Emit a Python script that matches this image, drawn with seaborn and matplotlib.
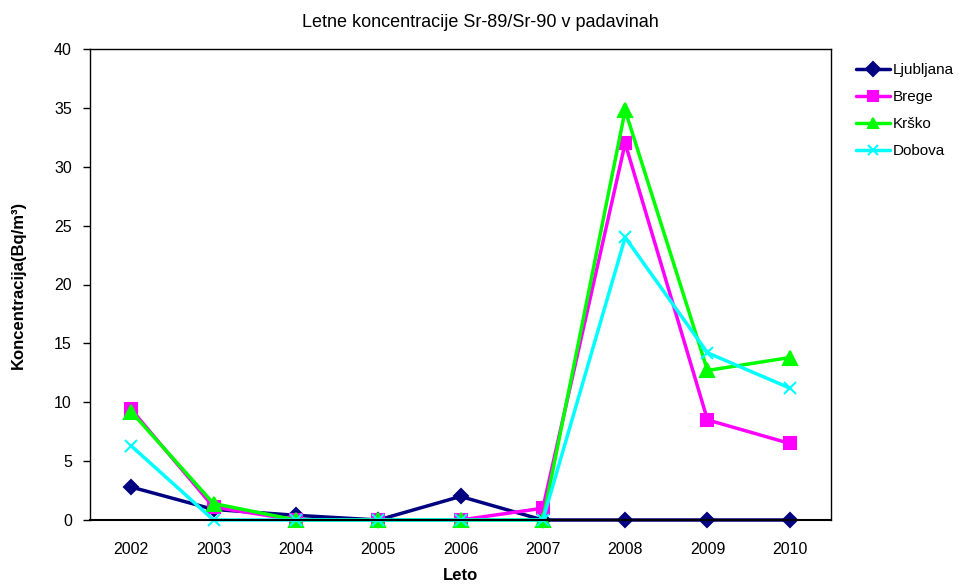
import matplotlib
matplotlib.use("Agg")
import matplotlib.pyplot as plt
import seaborn as sns
import pandas as pd
import numpy as np
from matplotlib.ticker import FixedLocator, NullFormatter

years = ["2002", "2003", "2004", "2005", "2006", "2007", "2008", "2009", "2010"]
ljubljana = [2.8, 0.9, 0.4, 0.0, 2.0, 0.0, 0.0, 0.0, 0.0]
brege = [9.4, 1.1, 0.0, 0.0, 0.0, 1.0, 32.0, 8.5, 6.5]
krsko = [9.2, 1.4, 0.0, 0.0, 0.0, 0.0, 34.8, 12.7, 13.8]
dobova = [6.3, 0.0, 0.0, 0.0, 0.0, 0.0, 24.0, 14.2, 11.2]

series = {"Ljubljana": ljubljana, "Brege": brege, "Krško": krsko, "Dobova": dobova}
colors = {"Ljubljana": "#000080", "Brege": "#FF00FF", "Krško": "#00FF00", "Dobova": "#00FFFF"}
markers = {"Ljubljana": "D", "Brege": "s", "Krško": "^", "Dobova": "x"}
msizes = {"Ljubljana": 7, "Brege": 9, "Krško": 10, "Dobova": 9}

rows = []
for name, vals in series.items():
    for i, (y, v) in enumerate(zip(years, vals)):
        rows.append({"pos": i, "Leto": y, "value": v, "site": name})
df = pd.DataFrame(rows)

sns.set_style("white")
plt.rcParams["font.family"] = ["Liberation Sans", "DejaVu Sans"]
plt.rcParams["text.color"] = "black"
plt.rcParams["axes.labelcolor"] = "black"
plt.rcParams["xtick.color"] = "black"
plt.rcParams["ytick.color"] = "black"

fig = plt.figure(figsize=(9.61, 5.88), dpi=100)
ax = fig.add_axes([90 / 961, 68 / 588, 741 / 961, 471 / 588])

for name in series:
    sub = df[df["site"] == name]
    sns.lineplot(data=sub, x="pos", y="value", ax=ax, color=colors[name],
                 marker=markers[name], markersize=msizes[name],
                 markeredgecolor=colors[name], markeredgewidth=1.5,
                 linewidth=2.5, label=name, clip_on=False)

ax.set_xlim(-0.5, len(years) - 0.5)
ax.set_ylim(0, 40)
ax.set_yticks(np.arange(0, 41, 5))
ax.set_xticks(range(len(years)))
ax.set_xticklabels(years)
ax.xaxis.set_minor_locator(FixedLocator(np.arange(-0.5, len(years), 1.0)))
ax.xaxis.set_minor_formatter(NullFormatter())
ax.tick_params(axis="x", which="major", length=0, pad=16, labelsize=11.5)
ax.tick_params(axis="x", which="minor", length=5, width=1, direction="out", color="black")
ax.tick_params(axis="y", which="major", length=5, width=1, direction="out", color="black",
               labelsize=11.5, pad=8, left=True)

for sp in ax.spines.values():
    sp.set_visible(True)
    sp.set_color("black")
    sp.set_linewidth(1.0)
ax.spines["bottom"].set_linewidth(1.5)

ax.set_xlabel("Leto", fontsize=12, fontweight="bold", labelpad=8)
ax.set_ylabel("Koncentracija(Bq/m³)", fontsize=12, fontweight="bold", labelpad=20)
fig.text(0.5, 0.962, "Letne koncentracije Sr-89/Sr-90 v padavinah", ha="center", va="center",
         fontsize=13)

leg = ax.legend(loc="upper left", bbox_to_anchor=(850 / 961, 531 / 588),
                bbox_transform=fig.transFigure, frameon=False, fontsize=11,
                handlelength=2.2, handletextpad=0.2, labelspacing=0.85, borderaxespad=0)
for h in leg.legend_handles:
    h.set_markersize(7)

fig.savefig("out.png", dpi=100)
